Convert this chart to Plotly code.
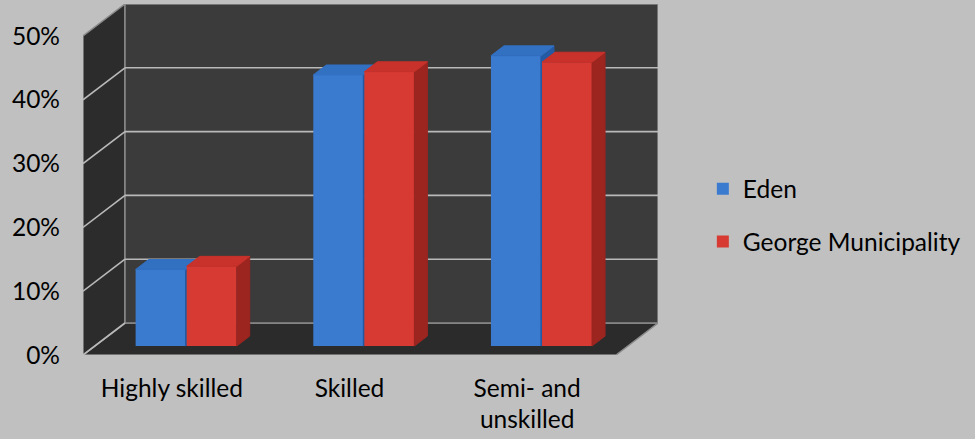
import plotly.graph_objects as go

# ---- data ----
categories = ["Highly skilled", "Skilled", "Semi- and<br>unskilled"]
eden = [12.0, 42.5, 45.5]
george = [12.5, 43.0, 44.5]
series_names = ["Eden", "George Municipality"]
y_ticks = [0, 10, 20, 30, 40, 50]
y_tick_text = ["0%", "10%", "20%", "30%", "40%", "50%"]

# ---- geometry / style constants ----
W, H = 975, 439
L, R, T, B = 83, 658, 4, 355          # plot area in px
DEPTH_PX_X, DEPTH_PX_Y = 42, 32        # oblique depth of the 3D box
YMAX = 50
ppu_x = (R - L - DEPTH_PX_X) / 3.0
DX = DEPTH_PX_X / ppu_x
ppu_y = (B - T - DEPTH_PX_Y) / YMAX
DY = DEPTH_PX_Y / ppu_y
X0, X1 = -0.5, 2.5

F = 0.28          # depth position of bar front face (fraction of box depth)
BD = 0.31         # bar depth (fraction of box depth)
BW = 50 / ppu_x   # bar width in x units
OFFS = [-0.27, -0.27 + BW + 0.006]
BX, BY = BD * DX, BD * DY
BASE = F * DY

FONT = "Lato"
FS = 24.5

colors_front = ["#3a7bd0", "#d63a33"]
colors_top = ["#3270c2", "#c9312b"]
colors_side = ["#245aa3", "#9c2520"]

fig = go.Figure()

shapes = []
# floor
shapes.append(dict(type="path", xref="x", yref="y", layer="below",
                   path=f"M{X0},0 L{X1},0 L{X1+DX},{DY} L{X0+DX},{DY} Z",
                   fillcolor="#2b2b2b", line=dict(color="#8a8a8a", width=1.5)))
# left wall
shapes.append(dict(type="path", xref="x", yref="y", layer="below",
                   path=f"M{X0},0 L{X0+DX},{DY} L{X0+DX},{YMAX+DY} L{X0},{YMAX} Z",
                   fillcolor="#2c2c2c", line=dict(color="#8a8a8a", width=1.5)))
# back wall
shapes.append(dict(type="rect", xref="x", yref="y", layer="below",
                   x0=X0+DX, x1=X1+DX, y0=DY, y1=YMAX+DY,
                   fillcolor="#3b3b3b", line=dict(color="#8a8a8a", width=1.5)))
# gridlines on back wall and left wall
for v in y_ticks:
    if 0 < v < YMAX:
        shapes.append(dict(type="line", xref="x", yref="y", layer="below",
                           x0=X0+DX, x1=X1+DX, y0=v+DY, y1=v+DY,
                           line=dict(color="#b9b9b9", width=1.6)))
    if v < YMAX:
        shapes.append(dict(type="line", xref="x", yref="y", layer="below",
                           x0=X0, x1=X0+DX, y0=v, y1=v+DY,
                           line=dict(color="#b9b9b9", width=1.6)))

xs = [i + F * DX for i in range(len(categories))]

for k, (name, vals) in enumerate(zip(series_names, [eden, george])):
    fig.add_trace(go.Bar(
        x=xs, y=vals, base=BASE, width=BW, offset=OFFS[k],
        name=name, marker=dict(color=colors_front[k], line=dict(width=0)),
        legendgroup=name, zorder=2 * k + 1, hoverinfo="skip"))
    top_x, top_y, side_x, side_y = [], [], [], []
    for xc, v in zip(xs, vals):
        xl = xc + OFFS[k]
        xr = xl + BW
        yt = BASE + v
        top_x += [xl, xl + BX, xr + BX, xr, xl, None]
        top_y += [yt, yt + BY, yt + BY, yt, yt, None]
        side_x += [xr, xr + BX, xr + BX, xr, xr, None]
        side_y += [BASE, BASE + BY, yt + BY, yt, BASE, None]
    fig.add_trace(go.Scatter(x=side_x, y=side_y, mode="lines", fill="toself",
                             fillcolor=colors_side[k], line=dict(width=1, color=colors_side[k]),
                             showlegend=False, hoverinfo="skip", zorder=2 * k + 2))
    fig.add_trace(go.Scatter(x=top_x, y=top_y, mode="lines", fill="toself",
                             fillcolor=colors_top[k], line=dict(width=1, color=colors_top[k]),
                             showlegend=False, hoverinfo="skip", zorder=2 * k + 2))

fig.update_layout(
    width=W, height=H,
    margin=dict(l=L, r=W - R, t=T, b=H - B, pad=0),
    paper_bgcolor="#c0c0c0", plot_bgcolor="rgba(0,0,0,0)",
    barmode="overlay",
    font=dict(family=FONT, size=FS, color="#000000"),
    shapes=shapes,
    showlegend=True,
    legend=dict(x=1.078, y=0.398, xanchor="left", yanchor="middle",
                bgcolor="rgba(0,0,0,0)", traceorder="grouped", tracegroupgap=18,
                font=dict(family=FONT, size=FS)),
    xaxis=dict(range=[X0, X1 + DX], tickvals=[0, 1, 2], ticktext=categories,
               showgrid=False, zeroline=False, showline=False, ticks="",
               ticklabelstandoff=16, fixedrange=True),
    yaxis=dict(range=[0, YMAX + DY], tickvals=y_ticks, ticktext=y_tick_text,
               showgrid=False, zeroline=False, showline=False, ticks="",
               ticklabelstandoff=22, fixedrange=True),
)

fig.write_html("out.html")
